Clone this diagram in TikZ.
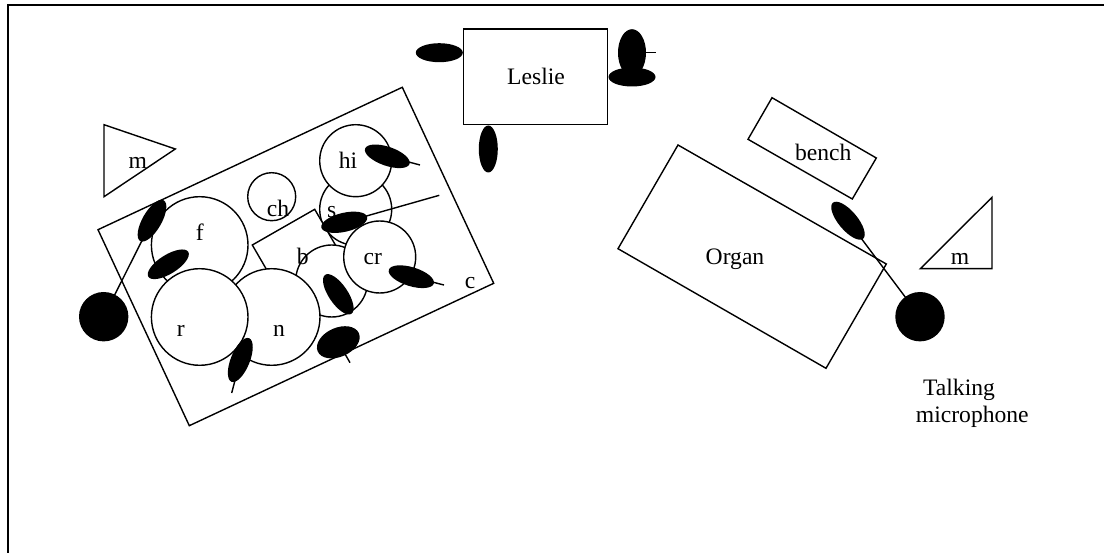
\documentclass[tikz,border=0pt]{standalone}
\usepackage{fontspec}
\setmainfont{Liberation Serif}
\usetikzlibrary{shapes.geometric}
\tikzset{
  ln/.style={draw=black,line width=1.4pt,line join=miter},
  kit/.style={circle,draw=black,fill=white,line width=1.4pt,inner sep=0pt},
  mic/.style={ellipse,fill=black,inner sep=0pt,minimum width=47pt,minimum height=19pt},
  stand/.style={circle,fill=black,inner sep=0pt,minimum size=49.4pt},
  lab/.style={anchor=base,inner sep=0pt,font=\fontsize{23.6}{26}\selectfont,text=black},
  wire/.style={draw=black,line width=1.4pt}
}
\begin{document}
\begin{tikzpicture}[x=1pt,y=-1pt]
\useasboundingbox (0,0) rectangle (1104,553);
\fill[white] (0,0) rectangle (1104,553);
% frame
\draw[line width=1.8pt] (7.7,553) -- (7.7,4.8) -- (1104,4.8);
% riser
\draw[ln] (402.3,87.3) -- (493.7,283.3) -- (189.3,425.7) -- (98,229.7) -- cycle;
% kit
\node[kit,minimum size=48pt] (ch) at (271.7,196.7) {};
\node[kit,minimum size=96.6pt] (f) at (199.7,245) {};
\node[kit,minimum size=72pt] (s) at (355.7,209.3) {};
\node[kit,minimum size=72pt] (hi) at (355.7,160.7) {};
\draw[ln,fill=white] (252.3,245) -- (314.7,209.3) -- (344.7,261) -- (282.3,296.7) -- cycle;
\node[kit,minimum size=72pt] (b) at (331.7,281) {};
\node[kit,minimum size=72pt] (cr) at (379.7,257) {};
\node[kit,minimum size=96.6pt] (n) at (271.7,317) {};
\node[kit,minimum size=96.6pt] (r) at (199.7,317) {};
% Leslie, organ, bench, triangles
\draw[ln] (463.7,29) rectangle (607.7,124.7);
\draw[ln] (772,97.7) -- (876.3,158) -- (852.3,199) -- (748,139.3) -- cycle;
\draw[ln] (678,145) -- (886.3,264) -- (826,368.3) -- (618,248.7) -- cycle;
\draw[ln] (104,124.7) -- (175.3,149) -- (104,196.7) -- cycle;
\draw[ln] (992,197.3) -- (992,268.7) -- (920.3,268.7) -- cycle;
% stands
\node[stand] (st1) at (103.7,316.7) {};
\node[stand] (st2) at (920,316.7) {};
% mics
\node[mic,rotate=60] (m1) at (152,220.7) {};
\node[mic,rotate=32] (m2) at (168.3,264.3) {};
\node[mic,rotate=68] (m3) at (240.3,360) {};
\node[mic,rotate=-56] (m4) at (338.3,294.3) {};
\node[mic,rotate=24,minimum height=29pt,minimum width=45pt] (m5) at (338.3,342.3) {};
\node[mic,rotate=-19] (m6) at (387.3,156.3) {};
\node[mic,rotate=13] (m7) at (344.3,222.3) {};
\node[mic,rotate=-17] (m8) at (411.3,276.7) {};
\node[mic] (m9) at (439.3,52.7) {};
\node[mic,rotate=90] (m10) at (488.3,149) {};
\node[mic,rotate=90,minimum height=28pt] (m11) at (632,52.7) {};
\node[mic] (m12) at (632,77) {};
\node[mic,rotate=-50] (m13) at (848,220.7) {};
% tail ends
\coordinate (t3) at (231.7,393);
\coordinate (t5) at (350,362.7);
\coordinate (t6) at (420,165);
\coordinate (t7) at (439.3,195.3);
\coordinate (t8) at (444,285);
\coordinate (t11) at (655.7,52.7);
% connectors
\draw[wire] (st1.center) -- (m1.center);
\draw[wire] (st2.center) -- (m13.center);
\draw[wire] (m3.center) -- (t3);
\draw[wire] (m5.center) -- (t5);
\draw[wire] (m6.center) -- (t6);
\draw[wire] (m7.center) -- (t7);
\draw[wire] (m8.center) -- (t8);
\draw[wire] (m11.center) -- (t11);
% labels
\node[lab] (lm1) at (137.7,169) {m};
\node[lab] (lf) at (199.7,240.7) {f};
\node[lab] (lr) at (180.7,336.7) {r};
\node[lab] (ln) at (279,336.7) {n};
\node[lab] (lch) at (278,216.7) {ch};
\node[lab] (lhi) at (348,169) {hi};
\node[lab] (ls) at (331.7,218) {s};
\node[lab] (lb) at (302.7,265) {b};
\node[lab] (lcr) at (372.7,265) {cr};
\node[lab] (lc) at (470,289) {c};
\node[lab] (lles) at (536,85) {Leslie};
\node[lab] (lben) at (823.3,160.7) {bench};
\node[lab] (lorg) at (735,265) {Organ};
\node[lab] (lm2) at (960,265) {m};
\node[lab] (ltalk) at (959,396) {Talking};
\node[lab] (lmic) at (972.3,422.7) {microphone};
\end{tikzpicture}
\end{document}
